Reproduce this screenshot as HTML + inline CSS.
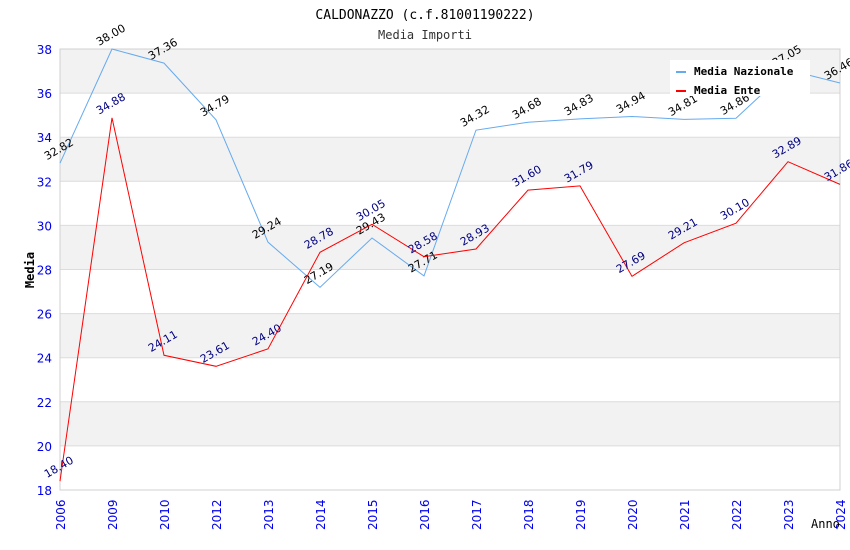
<!DOCTYPE html>
<html><head><meta charset="utf-8"><style>
body{margin:0;background:#fff;}
svg{display:block;font-family:"DejaVu Sans","Liberation Sans",sans-serif;}
</style></head><body>
<svg id="c" width="850" height="550"></svg>
<script>
const categories=["2006","2009","2010","2012","2013","2014","2015","2016","2017","2018","2019","2020","2021","2022","2023","2024"];
const nazionale=[32.82,38.00,37.36,34.79,29.24,27.19,29.43,27.71,34.32,34.68,34.83,34.94,34.81,34.86,37.05,36.46];
const ente=[18.40,34.88,24.11,23.61,24.40,28.78,30.05,28.58,28.93,31.60,31.79,27.69,29.21,30.10,32.89,31.86];
const yTicks=[18,20,22,24,26,28,30,32,34,36,38];
const NS="http://www.w3.org/2000/svg";
const svg=document.getElementById('c');
const L=60,R=840,T=49,B=490,ymin=18,ymax=38;
const x=i=>L+i*(R-L)/(categories.length-1);
const y=v=>B-(v-ymin)/(ymax-ymin)*(B-T);
function mk(tag,attrs,parent){const e=document.createElementNS(NS,tag);for(const k in attrs)e.setAttribute(k,attrs[k]);(parent||svg).appendChild(e);return e;}
for(let i=0;i<yTicks.length-1;i++){
  if(i%2===1){const b=mk('rect',{x:L,y:y(yTicks[i+1]),width:R-L,height:y(yTicks[i])-y(yTicks[i+1]),fill:'#f2f2f2'});
  
  }
}
yTicks.forEach(t=>{
  const g=mk('line',{x1:L,x2:R,y1:y(t),y2:y(t),stroke:'#dcdcdc','stroke-width':1});
  
  
  const tx=mk('text',{x:L-8,y:y(t)+5,'text-anchor':'end','font-size':12,fill:'#0000ee'});tx.textContent=t;
  
  
});
const frame=mk('rect',{x:L,y:T,width:R-L,height:B-T,fill:'none',stroke:'#d0d0d0'});


categories.forEach((c,i)=>{
  const tx=mk('text',{x:0,y:0,transform:`translate(${x(i)+5},${B+40}) rotate(-90)`,'font-size':12,fill:'#0000ee'});tx.textContent=c;
  
  
});
function series(data,color,labelColor,name){
  const p=mk('polyline',{points:data.map((v,i)=>x(i)+','+y(v)).join(' '),fill:'none',stroke:color,'stroke-width':1});
  
  
  data.forEach((v,i)=>{
    const tx=mk('text',{x:0,y:0,transform:`translate(${x(i)-13},${y(v)-3}) rotate(-30)`,'font-size':11,fill:labelColor});tx.textContent=v.toFixed(2);
    
    
  });
}
series(nazionale,'#66aaee','#000','nazionale');
series(ente,'#ff0000','#000080','ente');
let t=mk('text',{x:425,y:19,'text-anchor':'middle','font-size':13,'font-family':'DejaVu Sans Mono,Liberation Mono,monospace',fill:'#000'});t.textContent='CALDONAZZO (c.f.81001190222)';


t=mk('text',{x:425,y:39,'text-anchor':'middle','font-size':12,'font-family':'DejaVu Sans Mono,Liberation Mono,monospace',fill:'#333'});t.textContent='Media Importi';


t=mk('text',{x:0,y:0,transform:'translate(34,270) rotate(-90)','text-anchor':'middle','font-size':12,'font-weight':'bold','font-family':'DejaVu Sans Mono,Liberation Mono,monospace',fill:'#000'});t.textContent='Media';


t=mk('text',{x:811,y:528,'font-size':12,'font-family':'DejaVu Sans Mono,Liberation Mono,monospace',fill:'#000'});t.textContent='Anno';


const lg=mk('g',{});


mk('rect',{x:670,y:60,width:140,height:36,fill:'#fff'},lg);
[['Media Nazionale','#66aaee',72],['Media Ente','#ff0000',91]].forEach(([n,c,yy])=>{
  const e=mk('g',{},lg);
  
  
  mk('rect',{x:676,y:yy-1,width:10,height:2,fill:c},e);
  const tx=mk('text',{x:694,y:yy+3,'font-size':11,'font-weight':'bold','font-family':'DejaVu Sans Mono,Liberation Mono,monospace',fill:'#000'},e);tx.textContent=n;
});
</script>
</body></html>
